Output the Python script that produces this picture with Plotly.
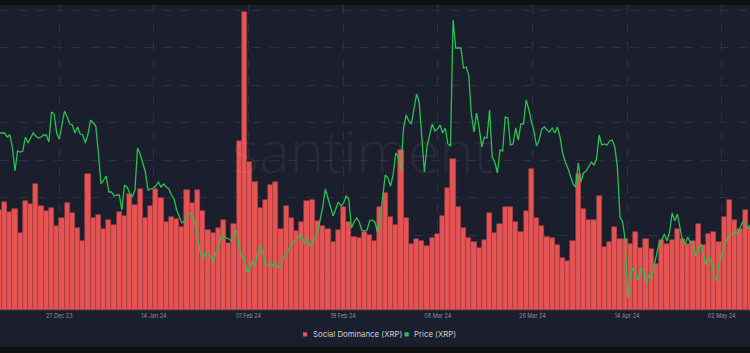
import pandas as pd
import plotly.graph_objects as go

# ---------------- data ----------------
bar_start = "2023-12-15 12:00"   # first daily bar
social_dominance = [
    1.00, 1.08, 0.98, 1.01, 0.77, 1.09, 1.06, 1.26, 1.04, 0.99, 1.02, 0.84, 0.92,
    1.07, 0.97, 0.82, 0.69, 1.36, 0.92, 0.95, 0.81, 0.90, 0.85, 0.98, 0.94,
    1.16, 1.05, 1.21, 0.92, 1.04, 1.21, 1.12, 0.88, 0.93, 0.91, 0.83, 1.20,
    1.07, 1.20, 0.99, 0.80, 0.77, 0.82, 0.90, 0.67, 0.86, 1.69, 2.98, 1.48,
    1.28, 1.02, 1.10, 1.25, 1.28, 0.81, 1.04, 0.92, 0.79, 0.88, 1.09, 1.10,
    0.89, 0.84, 0.81, 0.68, 0.80, 1.03, 0.88, 0.73, 0.72, 0.78, 0.75, 0.69,
    1.03, 1.17, 0.93, 0.85, 1.60, 0.92, 0.66, 0.71, 0.69, 0.64, 0.72, 0.76,
    0.94, 1.22, 1.51, 1.03, 0.82, 0.72, 0.68, 0.62, 0.70, 0.97, 0.77, 0.86,
    1.03, 1.03, 0.88, 0.78, 0.99, 1.41, 0.92, 0.84, 0.73, 0.72, 0.65, 0.52,
    0.49, 0.69, 1.36, 1.01, 0.90, 0.90, 1.14, 0.63, 0.68, 0.83, 0.71, 0.71,
    0.66, 0.78, 0.62, 0.71, 0.61, 0.46, 0.70, 0.66, 0.70, 0.81, 0.71, 0.66,
    0.69, 0.86, 0.65, 0.76, 0.78, 0.68, 0.93, 1.10, 0.90, 0.81, 1.00, 0.83,
]

price_start = "2023-12-15 12:00"  # 12-hourly price samples
price_xrp = [
    0.607, 0.607, 0.607, 0.603, 0.605, 0.593, 0.569, 0.589, 0.588, 0.589, 0.603, 0.597,
    0.602, 0.607, 0.604, 0.602, 0.603, 0.605, 0.605, 0.598, 0.628, 0.626, 0.607, 0.601,
    0.615, 0.629, 0.623, 0.616, 0.615, 0.607, 0.613, 0.606, 0.605, 0.597, 0.606, 0.620,
    0.617, 0.614, 0.587, 0.556, 0.560, 0.564, 0.548, 0.548, 0.544, 0.545, 0.545, 0.530,
    0.555, 0.553, 0.547, 0.543, 0.550, 0.592, 0.586, 0.578, 0.568, 0.550, 0.551, 0.552,
    0.554, 0.558, 0.553, 0.556, 0.553, 0.551, 0.545, 0.541, 0.530, 0.524, 0.517, 0.519,
    0.524, 0.527, 0.525, 0.517, 0.503, 0.488, 0.481, 0.487, 0.485, 0.484, 0.478, 0.487,
    0.492, 0.504, 0.505, 0.502, 0.501, 0.499, 0.505, 0.510, 0.492, 0.483, 0.481, 0.468,
    0.470, 0.479, 0.474, 0.486, 0.495, 0.488, 0.476, 0.474, 0.477, 0.474, 0.478, 0.472,
    0.475, 0.482, 0.486, 0.491, 0.495, 0.499, 0.500, 0.504, 0.504, 0.496, 0.502, 0.494,
    0.496, 0.502, 0.507, 0.520, 0.533, 0.551, 0.542, 0.535, 0.524, 0.531, 0.538, 0.534,
    0.537, 0.544, 0.541, 0.512, 0.518, 0.522, 0.518, 0.510, 0.509, 0.510, 0.519, 0.520,
    0.518, 0.508, 0.522, 0.543, 0.565, 0.562, 0.554, 0.565, 0.587, 0.583, 0.571, 0.612,
    0.625, 0.619, 0.616, 0.631, 0.646, 0.638, 0.604, 0.568, 0.594, 0.606, 0.616, 0.609,
    0.611, 0.615, 0.607, 0.612, 0.596, 0.594, 0.720, 0.692, 0.692, 0.692, 0.672, 0.673,
    0.665, 0.626, 0.608, 0.627, 0.612, 0.593, 0.603, 0.602, 0.630, 0.583, 0.578, 0.567,
    0.590, 0.589, 0.623, 0.622, 0.595, 0.596, 0.612, 0.600, 0.616, 0.616, 0.640, 0.631,
    0.619, 0.609, 0.594, 0.600, 0.611, 0.613, 0.610, 0.608, 0.612, 0.607, 0.613, 0.603,
    0.587, 0.578, 0.572, 0.564, 0.556, 0.553, 0.577, 0.558, 0.567, 0.569, 0.574, 0.578,
    0.575, 0.581, 0.605, 0.595, 0.596, 0.595, 0.599, 0.600, 0.593, 0.573, 0.523, 0.518,
    0.500, 0.442, 0.465, 0.472, 0.467, 0.460, 0.471, 0.470, 0.457, 0.465, 0.461, 0.472,
    0.486, 0.497, 0.500, 0.506, 0.499, 0.508, 0.527, 0.519, 0.526, 0.513, 0.499, 0.496,
    0.503, 0.497, 0.498, 0.484, 0.491, 0.496, 0.487, 0.475, 0.483, 0.478, 0.466, 0.459,
    0.477, 0.484, 0.497, 0.500, 0.505, 0.506, 0.508, 0.506, 0.512, 0.518, 0.517, 0.512, 0.515,
]

tick_dates = ["2023-12-27 00:00", "2024-01-14 03:26", "2024-02-01 06:51", "2024-02-19 10:17",
              "2024-03-08 13:43", "2024-03-26 17:09", "2024-04-13 20:34", "2024-05-02 00:00"]
tick_labels = ["27 Dec 23", "14 Jan 24", "01 Feb 24", "19 Feb 24",
               "08 Mar 24", "26 Mar 24", "14 Apr 24", "02 May 24"]

x_range = ["2023-12-15 15:07", "2024-05-07 10:14"]
series_names = ["Social Dominance (XRP)", "Price (XRP)"]

# ---------------- style ----------------
BG = "#1b1e2d"
BAND = "#101012"
BAR = "#e55353"
BAR_EDGE = "#a13d46"
LINE = "#27c350"
GRID = "#2c3044"

bar_dates = pd.date_range(bar_start, periods=len(social_dominance), freq="D")
price_dates = pd.date_range(price_start, periods=len(price_xrp), freq="12h")

fig = go.Figure()
fig.add_trace(go.Bar(
    x=bar_dates, y=social_dominance, name=series_names[0],
    marker=dict(color=BAR, line=dict(color=BAR_EDGE, width=0.6)),
    width=86400000, showlegend=False, yaxis="y",
))
fig.add_trace(go.Scatter(
    x=price_dates, y=price_xrp, name=series_names[1], mode="lines",
    line=dict(color=LINE, width=1.3), showlegend=False, yaxis="y2",
))

fig.update_layout(
    width=750, height=353,
    margin=dict(l=0, r=0, t=5, b=43),
    paper_bgcolor=BG, plot_bgcolor=BG,
    bargap=0,
    showlegend=False,
    xaxis=dict(
        type="date", range=x_range,
        tickvals=tick_dates, ticktext=tick_labels,
        tickfont=dict(size=5.5, color="#8a8fa2", family="Inter"),
        showgrid=True, gridcolor=GRID, griddash="dash", gridwidth=1,
        showline=True, linecolor="#2a2e40", linewidth=1,
        ticks="", zeroline=False,
    ),
    yaxis=dict(
        range=[0, 3.05], dtick=0.375, tick0=0,
        showticklabels=False, showgrid=True, gridcolor=GRID, griddash="dash",
        zeroline=False, ticks="",
    ),
    yaxis2=dict(
        range=[0.430, 0.735], overlaying="y", side="right",
        showticklabels=False, showgrid=False, zeroline=False, ticks="",
    ),
)

# black bands at top and bottom of the card
fig.add_shape(type="rect", xref="paper", yref="paper", x0=0, x1=1,
              y0=1.0, y1=1.0 + 6 / 305, fillcolor=BAND, line=dict(width=0), layer="above")
fig.add_shape(type="rect", xref="paper", yref="paper", x0=0, x1=1,
              y0=-44 / 305, y1=-37 / 305, fillcolor=BAND, line=dict(width=0), layer="above")

# watermark
fig.add_annotation(text="santiment", xref="paper", yref="paper",
                   x=362 / 750, y=(310 - 150) / 305, xanchor="center", yanchor="middle",
                   showarrow=False,
                   font=dict(size=58, color="rgba(255,255,255,0.055)", family="Open Sans", weight=300))

# legend (drawn as squares + text)
legend_items = [(series_names[0], BAR, 303), (series_names[1], LINE, 404.5)]
for name, col, px in legend_items:
    fig.add_shape(type="rect", xref="paper", yref="paper",
                  x0=px / 750, x1=(px + 4.2) / 750,
                  y0=(310 - 336.5) / 305, y1=(310 - 332.3) / 305,
                  fillcolor=col, line=dict(width=0))
    fig.add_annotation(text=name, xref="paper", yref="paper",
                       x=(px + 7.5) / 750, y=(310 - 334.4) / 305,
                       xanchor="left", yanchor="middle", showarrow=False,
                       font=dict(size=7.8, color="#c9ccd6", family="Inter"))

fig.write_html("out.html")
